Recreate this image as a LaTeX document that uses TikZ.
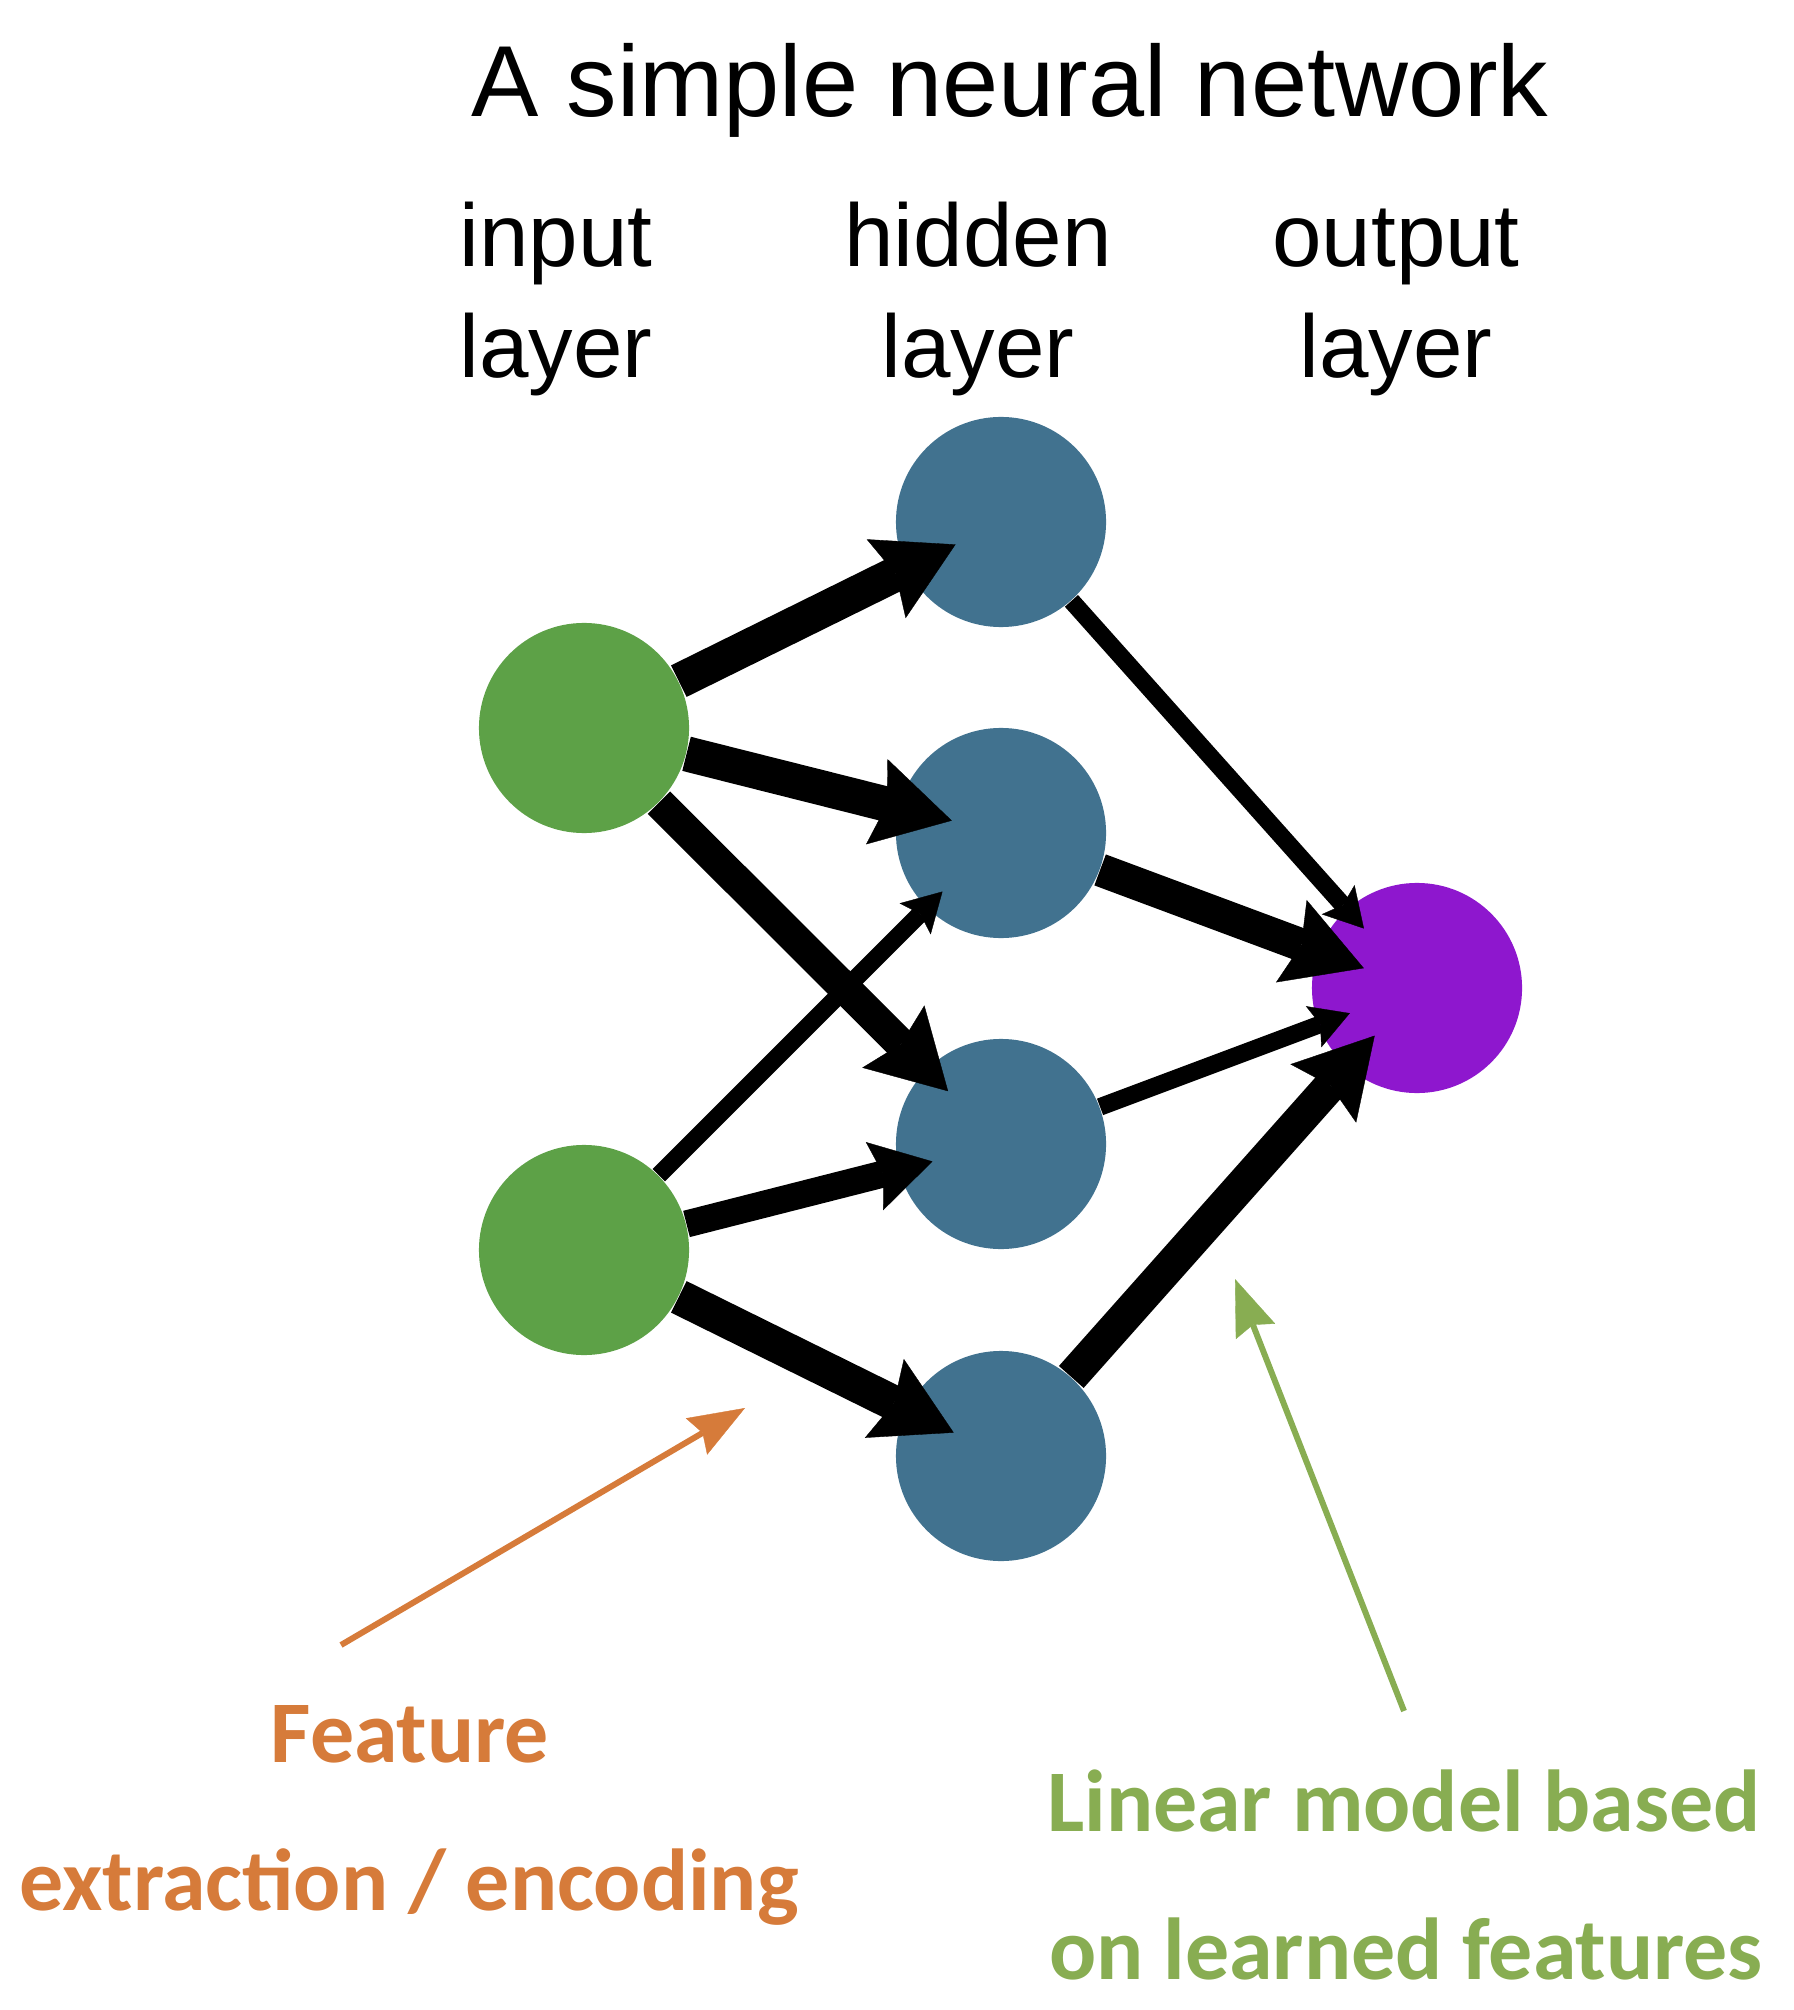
\documentclass[tikz,border=0pt]{standalone}
\usepackage{fontspec}
\setmainfont{Liberation Sans}
\newfontfamily\notefont{Carlito}
\usetikzlibrary{arrows.meta}

\definecolor{ingreen}{RGB}{93,161,71}
\definecolor{hidblue}{RGB}{65,114,143}
\definecolor{outpurple}{RGB}{142,23,206}
\definecolor{noteorange}{RGB}{214,123,58}
\definecolor{notegreen}{RGB}{136,173,82}

\tikzset{
  neuron/.style={circle, minimum size=2.1cm, inner sep=0pt, draw=none},
  titletext/.style={anchor=base, inner sep=0pt, font=\fontsize{28.7}{34}\selectfont},
  layertext/.style={anchor=base, inner sep=0pt, font=\fontsize{25.3}{30}\selectfont},
  notetext/.style={anchor=base, inner sep=0pt, font=\notefont\bfseries\fontsize{25}{30}\selectfont},
  wthick/.style={line width=10pt, -{Stealth[length=22pt, width=25pt, inset=3pt, line width=0.1pt]}},
  wmid/.style={line width=7.7pt, -{Stealth[length=17pt, width=20pt, inset=2.5pt, line width=0.1pt]}},
  wthin/.style={line width=5pt, -{Stealth[length=11pt, width=12.5pt, inset=2pt, line width=0.1pt]}},
  notearrow/.style={line width=1.7pt, -{Stealth[length=16pt, width=12pt, inset=2pt, line width=0.1pt]}},
}

\begin{document}
\begin{tikzpicture}[x=0.01cm, y=-0.01cm]
  \useasboundingbox (0,0) rectangle (1793,2010);

  % headings
  \node[titletext] (title) at (1010,117) {A simple neural network};
  \node[layertext] (inlab1) at (556,267) {input};
  \node[layertext] (inlab2) at (556,378) {layer};
  \node[layertext] (hidlab1) at (978,267) {hidden};
  \node[layertext] (hidlab2) at (978,378) {layer};
  \node[layertext] (outlab1) at (1396,267) {output};
  \node[layertext] (outlab2) at (1396,378) {layer};

  % neurons
  \node[neuron, fill=ingreen] (i1) at (584,728) {};
  \node[neuron, fill=ingreen] (i2) at (584,1250) {};
  \node[neuron, fill=hidblue] (h1) at (1001,522) {};
  \node[neuron, fill=hidblue] (h2) at (1001,833) {};
  \node[neuron, fill=hidblue] (h3) at (1001,1144) {};
  \node[neuron, fill=hidblue] (h4) at (1001,1456) {};
  \node[neuron, fill=outpurple] (o) at (1417,988) {};

  % weighted connections
  \draw[wthick, shorten >=-0.55cm] (i1) -- (h1);
  \draw[wthick, shorten >=-0.55cm] (i1) -- (h2);
  \draw[wthick, line width=9pt, shorten >=-0.31cm] (i1) -- (h3);
  \draw[wthin, shorten >=-0.23cm] (i2) -- (h2);
  \draw[wmid, shorten >=-0.35cm] (i2) -- (h3);
  \draw[wthick, shorten >=-0.53cm] (i2) -- (h4);
  \draw[wthin, shorten >=-0.26cm] (h1) -- (o);
  \draw[wthick, line width=9.4pt, shorten >=-0.49cm] (h2) -- (o);
  \draw[wthin, shorten >=-0.34cm] (h3) -- (o);
  \draw[wthick, line width=9.4pt, shorten >=-0.42cm] (h4) -- (o);

  % annotations
  \coordinate (fstart) at (341,1645);
  \coordinate (ftip) at (745,1408);
  \draw[notearrow, noteorange] (fstart) -- (ftip);
  \node[notetext, text=noteorange] (feat1) at (410,1762) {Feature};
  \node[notetext, text=noteorange] (feat2) at (409,1910) {extraction / encoding};

  \coordinate (lstart) at (1404,1711);
  \coordinate (ltip) at (1235,1279);
  \draw[notearrow, notegreen] (lstart) -- (ltip);
  \node[notetext, text=notegreen] (lin1) at (1404,1831) {Linear model based};
  \node[notetext, text=notegreen] (lin2) at (1406,1979) {on learned features};
\end{tikzpicture}
\end{document}
